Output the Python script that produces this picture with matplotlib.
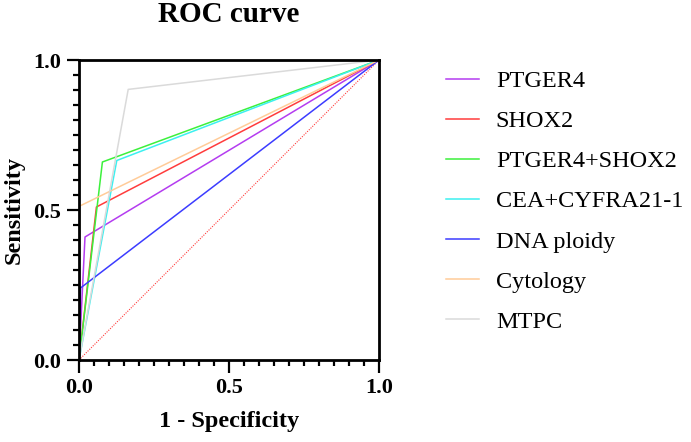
import matplotlib.pyplot as plt
from matplotlib.ticker import MultipleLocator

plt.rcParams['font.family'] = ['Liberation Serif', 'DejaVu Serif']

# ROC operating points: (0,0) -> (fpr, tpr) -> (1,1)
names = ['PTGER4', 'SHOX2', 'PTGER4+SHOX2', 'CEA+CYFRA21-1',
         'DNA ploidy', 'Cytology', 'MTPC']
fpr = [0.02, 0.058, 0.078, 0.126, 0.005, 0.002, 0.164]
tpr = [0.41, 0.51, 0.66, 0.665, 0.24, 0.513, 0.902]
colors = ['#B43CF0', '#FF3C3C', '#3CF03C', '#3CF0F0',
          '#3C3CFF', '#FFCC99', '#DADADA']

fig = plt.figure(figsize=(6.91, 4.42), dpi=100)
ax = fig.add_axes([79 / 691, 82 / 442, 300 / 691, 300 / 442])

# chance line
ax.plot([0, 1], [0, 1], color='#FF3C3C', lw=0.8, ls=(0, (1, 1.2)), zorder=1)

for name, x, y, c in zip(names, fpr, tpr, colors):
    ax.plot([0, x, 1], [0, y, 1], color=c, lw=1.1, label=name, zorder=2)

ax.set_xlim(0, 1)
ax.set_ylim(0, 1)
ax.xaxis.set_major_locator(MultipleLocator(0.5))
ax.yaxis.set_major_locator(MultipleLocator(0.5))
ax.xaxis.set_minor_locator(MultipleLocator(0.05))
ax.yaxis.set_minor_locator(MultipleLocator(0.05))
ax.tick_params(which='major', direction='out', length=9, width=1.6,
               labelsize=16, pad=4)
ax.tick_params(which='minor', direction='out', length=4.5, width=1.6)
for lab in ax.get_xticklabels() + ax.get_yticklabels():
    lab.set_fontweight('bold')
ax.xaxis.set_major_formatter(plt.FormatStrFormatter('%.1f'))
ax.yaxis.set_major_formatter(plt.FormatStrFormatter('%.1f'))
for sp in ax.spines.values():
    sp.set_linewidth(2)

ax.set_title('ROC curve', fontsize=21, fontweight='bold', pad=27)
ax.set_xlabel('1 - Specificity', fontsize=17.5, fontweight='bold', labelpad=9)
ax.set_ylabel('Sensitivity', fontsize=17.5, fontweight='bold', labelpad=6)

fig.legend(loc='upper left', bbox_to_anchor=(446 / 691, 1 - 70 / 442),
           frameon=False, fontsize=17.5, handlelength=1.35,
           handletextpad=0.7, labelspacing=0.745, borderpad=0,
           borderaxespad=0)

fig.savefig('out.png', dpi=100)
